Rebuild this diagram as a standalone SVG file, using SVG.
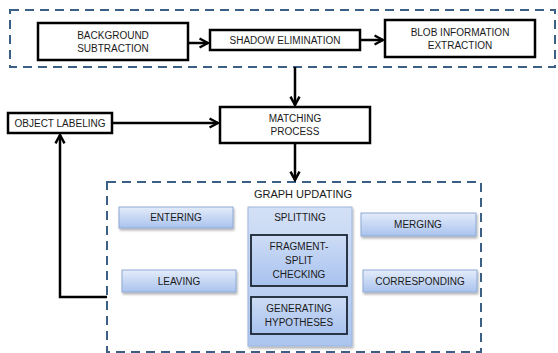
<svg xmlns="http://www.w3.org/2000/svg" width="558" height="353" viewBox="0 0 558 353">
<defs>
<style>
.t{font-family:"Liberation Sans",Arial,sans-serif;font-size:10px;fill:#1a1a1a;text-anchor:middle}
.bx{fill:#fff;stroke:#000;stroke-width:2.5}
.dash{fill:none;stroke:#3c5f86;stroke-width:2;stroke-dasharray:9,6}
.ln{fill:none;stroke:#000;stroke-width:2.5}
.lb{fill:url(#g1);stroke:#8fa9d6;stroke-width:1;filter:url(#sh)}
.in{fill:url(#g2);stroke:#1a2533;stroke-width:1.8}
</style>
<linearGradient id="g1" x1="0" y1="0" x2="0" y2="1"><stop offset="0" stop-color="#e4ecfa"/><stop offset="1" stop-color="#a9c3ee"/></linearGradient>
<linearGradient id="g2" x1="0" y1="0" x2="0" y2="1"><stop offset="0" stop-color="#cddcf5"/><stop offset="1" stop-color="#a8c2ee"/></linearGradient>
<linearGradient id="g3" x1="0" y1="0" x2="0" y2="1"><stop offset="0" stop-color="#d3e0f6"/><stop offset="1" stop-color="#abc5ef"/></linearGradient>
<filter id="sh" x="-10%" y="-20%" width="120%" height="160%"><feDropShadow dx="1" dy="2" stdDeviation="1" flood-color="#000" flood-opacity="0.3"/></filter>
<marker id="ah" viewBox="0 0 10 10" refX="8.5" refY="5" markerWidth="4.5" markerHeight="4.5" orient="auto" markerUnits="strokeWidth"><polyline points="1,1 8.5,5 1,9" fill="none" stroke="#000" stroke-width="2.2"/></marker>
</defs>
<rect class="dash" x="10" y="10" width="545" height="57"/>
<rect class="dash" x="107" y="182" width="374" height="170"/>
<g id="connectors">
<line class="ln" x1="188" y1="43" x2="208" y2="43" marker-end="url(#ah)"/>
<line class="ln" x1="361" y1="40" x2="383" y2="40" marker-end="url(#ah)"/>
<line class="ln" x1="295" y1="67" x2="295" y2="105" marker-end="url(#ah)"/>
<line class="ln" x1="112" y1="123" x2="218" y2="123" marker-end="url(#ah)"/>
<line class="ln" x1="295" y1="143" x2="295" y2="180" marker-end="url(#ah)"/>
<polyline class="ln" points="107,297 60,297 60,135" marker-end="url(#ah)"/>
</g>
<g id="bg"><rect class="bx" x="38" y="23" width="150" height="37"/><text class="t" x="113" y="39">BACKGROUND</text><text class="t" x="113" y="52">SUBTRACTION</text></g>
<g id="shadow"><rect class="bx" x="210" y="30" width="150" height="20"/><text class="t" x="285" y="44">SHADOW ELIMINATION</text></g>
<g id="blob"><rect class="bx" x="385" y="20" width="150" height="37"/><text class="t" x="460" y="36">BLOB INFORMATION</text><text class="t" x="460" y="49">EXTRACTION</text></g>
<g id="label"><rect class="bx" x="8" y="113" width="104" height="20"/><text class="t" x="60" y="127">OBJECT LABELING</text></g>
<g id="match"><rect class="bx" x="220" y="107" width="150" height="36"/><text class="t" x="295" y="122">MATCHING</text><text class="t" x="295" y="135">PROCESS</text></g>
<g id="graph"><text class="t" x="303" y="198" style="font-size:11px">GRAPH UPDATING</text></g>
<g id="entering"><rect class="lb" x="119" y="207" width="114" height="21"/><text class="t" x="176" y="221">ENTERING</text></g>
<g id="leaving"><rect class="lb" x="122" y="270" width="114" height="22"/><text class="t" x="179" y="285">LEAVING</text></g>
<g id="merging"><rect class="lb" x="361" y="213" width="115" height="23"/><text class="t" x="418" y="228">MERGING</text></g>
<g id="corresponding"><rect class="lb" x="363" y="270" width="114" height="22"/><text class="t" x="420" y="285">CORRESPONDING</text></g>
<g id="splitting"><rect x="248" y="207" width="104" height="139" fill="url(#g3)" stroke="#9db5dc" stroke-width="1" filter="url(#sh)"/><text class="t" x="300" y="221">SPLITTING</text></g>
<g id="fragment"><rect class="in" x="251" y="235" width="96" height="51"/><text class="t" x="299" y="250">FRAGMENT-</text><text class="t" x="299" y="264">SPLIT</text><text class="t" x="299" y="278">CHECKING</text></g>
<g id="generating"><rect class="in" x="251" y="297" width="96" height="37"/><text class="t" x="299" y="312">GENERATING</text><text class="t" x="299" y="326">HYPOTHESES</text></g>
</svg>
